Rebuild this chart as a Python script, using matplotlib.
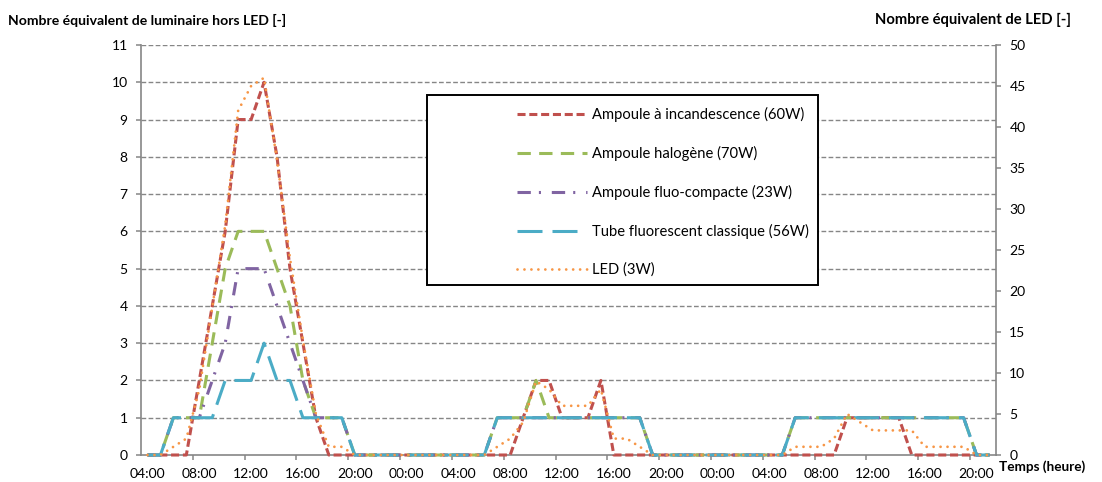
import numpy as np
import matplotlib
matplotlib.use("Agg")
import matplotlib.pyplot as plt
from matplotlib.patches import Rectangle
from matplotlib.lines import Line2D

plt.rcParams['font.family'] = ['Lato', 'DejaVu Sans']
plt.rcParams['lines.scale_dashes'] = False

# ---------------- data ----------------
# hourly categories, 04:00 (day 1) -> 21:00 (day 3)
hours = [f"{(4 + k) % 24:02d}:00" for k in range(66)]
tick_labels = ["04:00", "08:00", "12:00", "16:00", "20:00", "00:00", "04:00", "08:00", "12:00",
               "16:00", "20:00", "00:00", "04:00", "08:00", "12:00", "16:00", "20:00"]

incandescence = [0, 0, 0, 0, 2, 4, 6, 9, 9, 10, 8, 5, 3, 1, 0, 0,
                 0, 0, 0, 0, 0, 0, 0, 0, 0, 0, 0, 0, 0,
                 1, 2, 2, 1, 1, 1, 2, 0,
                 0, 0, 0, 0, 0, 0, 0, 0, 0, 0, 0, 0, 0, 0, 0, 0, 0,
                 1, 1, 1, 1, 1, 0,
                 0, 0, 0, 0, 0, 0]
halogene = [0, 0, 1, 1, 1, 3, 5, 6, 6, 6, 5, 4, 2, 1, 1, 1,
            0, 0, 0, 0, 0, 0, 0, 0, 0, 0, 0,
            1, 1, 1, 2, 1, 1, 1, 1, 1, 1, 1, 1,
            0, 0, 0, 0, 0, 0, 0, 0, 0, 0, 0,
            1, 1, 1, 1, 1, 1, 1, 1, 1, 1, 1, 1, 1, 1,
            0, 0]
fluo_compacte = [0, 0, 1, 1, 1, 2, 3, 5, 5, 5, 4, 3, 2, 1, 1, 1,
                 0, 0, 0, 0, 0, 0, 0, 0, 0, 0, 0,
                 1, 1, 1, 1, 1, 1, 1, 1, 1, 1, 1, 1,
                 0, 0, 0, 0, 0, 0, 0, 0, 0, 0, 0,
                 1, 1, 1, 1, 1, 1, 1, 1, 1, 1, 1, 1, 1, 1,
                 0, 0]
tube = [0, 0, 1, 1, 1, 1, 2, 2, 2, 3, 2, 2, 1, 1, 1, 1,
        0, 0, 0, 0, 0, 0, 0, 0, 0, 0, 0,
        1, 1, 1, 1, 1, 1, 1, 1, 1, 1, 1, 1,
        0, 0, 0, 0, 0, 0, 0, 0, 0, 0, 0,
        1, 1, 1, 1, 1, 1, 1, 1, 1, 1, 1, 1, 1, 1,
        0, 0]
led = [0, 0, 1, 2, 8, 18, 28, 42, 45, 46, 36, 24, 14, 5, 1, 1,
       0, 0, 0, 0, 0, 0, 0, 0, 0, 0, 0,
       1, 2, 4, 9, 8, 6, 6, 6, 8, 2, 2, 1,
       0, 0, 0, 0, 0, 0, 0, 0, 0, 0, 0,
       1, 1, 1, 2, 5, 4, 3, 3, 3, 3, 1, 1, 1, 1,
       0, 0]

labels = ["Ampoule à incandescence (60W)", "Ampoule halogène (70W)",
          "Ampoule fluo-compacte (23W)", "Tube fluorescent classique (56W)", "LED (3W)"]

# ---------------- styles ----------------
C_RED, C_GREEN, C_PURPLE, C_TEAL, C_ORANGE = "#C0504D", "#9BBB59", "#8064A2", "#4BACC6", "#F79646"
GRAY = "#868686"
styles = [
    dict(color=C_RED, lw=2.2, dashes=(5.8, 2.7)),
    dict(color=C_GREEN, lw=2.2, dashes=(9.6, 6.0)),
    dict(color=C_PURPLE, lw=2.2, dashes=(9.6, 5.8, 1.5, 7.8)),
    dict(color=C_TEAL, lw=2.2, dashes=(18, 7.2)),
    dict(color=C_ORANGE, lw=2.0, dashes=(0.01, 5.0), dash_capstyle='round'),
]

W, H = 1102, 482
fig = plt.figure(figsize=(W / 100, H / 100), dpi=100)
ax = fig.add_axes([141 / W, 1 - 455 / H, (996 - 141) / W, 410 / H])
ax2 = ax.twinx()

x = np.arange(len(hours))
series = [incandescence, halogene, fluo_compacte, tube]
for vals, st in zip(series, styles[:4]):
    ax.plot(x, vals, clip_on=False, zorder=3, **st)
ax2.plot(x, led, clip_on=False, zorder=3, **styles[4])

# axes limits & ticks
ax.set_xlim(-0.5, len(hours) - 0.5)
ax.set_ylim(0, 11)
ax2.set_ylim(0, 50)
ax.set_xticks(x[::4])
ax.set_xticklabels(tick_labels)
ax.set_xticks(np.arange(3.5, len(hours) - 1, 4), minor=True)
ax.tick_params(axis='x', which='major', length=0, pad=9, labelsize=10, colors='black')
ax.tick_params(axis='x', which='minor', length=3.6, width=1.1, color=GRAY, direction='out')
ax.set_yticks(range(0, 12))
ax.tick_params(axis='y', length=3.6, width=1.1, color=GRAY, pad=6, labelsize=10, labelcolor='black')
ax2.set_yticks(range(0, 51, 5))
ax2.tick_params(axis='y', length=3.6, width=1.1, color=GRAY, pad=6, labelsize=10, labelcolor='black')

# grid
ax.set_axisbelow(True)
for v in range(1, 12):
    ax.axhline(v, color=GRAY, lw=1.0, dashes=(3.4, 1.7), zorder=1)

for sp in ['top']:
    ax.spines[sp].set_visible(False)
for sp in ['top', 'left', 'bottom']:
    ax2.spines[sp].set_visible(False)
ax.spines['left'].set_color(GRAY)
ax.spines['bottom'].set_color(GRAY)
ax.spines['right'].set_visible(False)
ax2.spines['right'].set_color(GRAY)
for s in [ax.spines['left'], ax.spines['bottom'], ax2.spines['right']]:
    s.set_linewidth(1.2)

# axis titles
fig.text(8 / W, 1 - 20 / H, "Nombre équivalent de luminaire hors LED [-]", fontsize=10.1,
         fontweight='bold', ha='left', va='center')
fig.text(1071 / W, 1 - 20 / H, "Nombre équivalent de LED [-]", fontsize=10.6,
         fontweight='bold', ha='right', va='center')
fig.text(999 / W, 1 - 467 / H, "Temps (heure)", fontsize=9.8,
         fontweight='bold', ha='left', va='center')

# legend box
rect = Rectangle((427 / W, 1 - 285 / H), (818 - 427) / W, (285 - 95) / H,
                 transform=fig.transFigure, facecolor='white', edgecolor='black',
                 lw=1.4, zorder=5)
ax2.add_artist(rect)
handles = [Line2D([], [], **st) for st in styles]
leg = ax2.legend(handles, labels, loc='upper left', bbox_to_anchor=(517 / W, 1 - 107 / H),
                 bbox_transform=fig.transFigure, frameon=False, borderpad=0, borderaxespad=0,
                 handlelength=4.75, handletextpad=0.34, labelspacing=1.62, fontsize=10.6)
leg.set_zorder(6)

fig.savefig("out.png", dpi=100)
